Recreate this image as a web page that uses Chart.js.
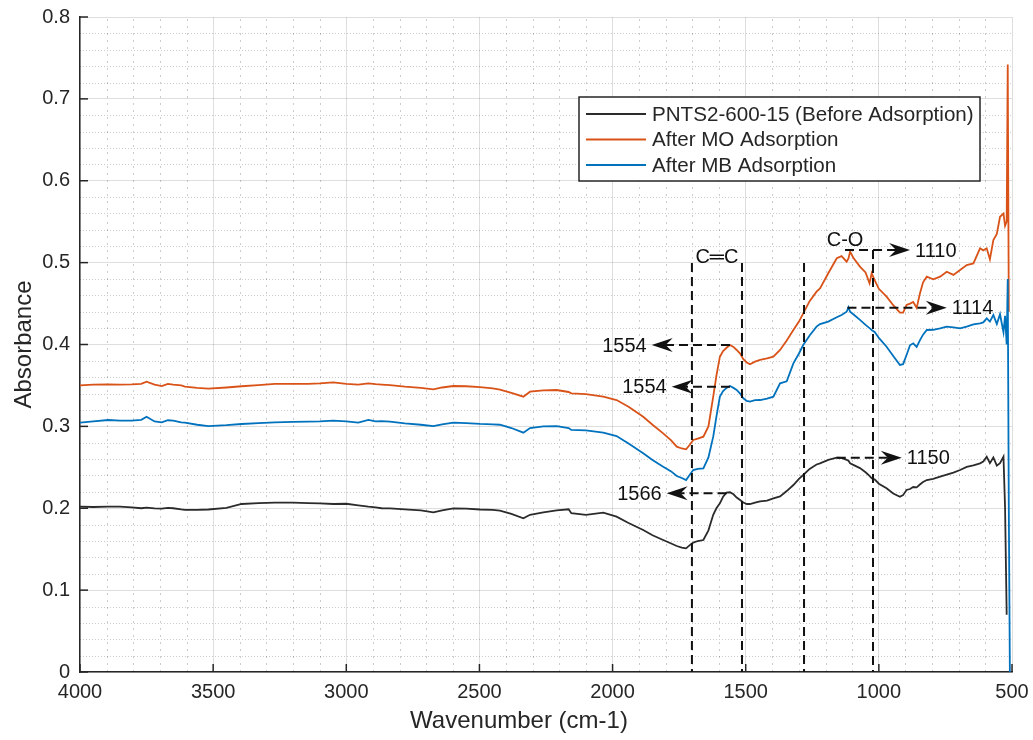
<!DOCTYPE html>
<html>
<head>
<meta charset="utf-8">
<title>FTIR - PNTS2-600-15</title>
<script src="https://cdn.jsdelivr.net/npm/chart.js@4.4.1/dist/chart.umd.min.js"></script>
<style>
  html, body { margin: 0; padding: 0; background: #fff; }
  #ftirChart { display: block; }
</style>
</head>
<body>
<canvas id="ftirChart" width="1033" height="740"></canvas>
<script>
/* ---- data ---- */
var wavenumbers = [
  4000, 3950, 3894, 3850, 3806, 3770, 3750, 3720, 3693, 3670,
  3650, 3620, 3606, 3560, 3518, 3450, 3393, 3330, 3268, 3200,
  3143, 3100, 3049, 3000, 2955, 2917, 2890, 2867, 2836, 2780,
  2720, 2673, 2640, 2598, 2550, 2498, 2450, 2423, 2380, 2335,
  2310, 2260, 2210, 2165, 2155, 2100, 2035, 1985, 1940, 1885,
  1850, 1810, 1780, 1759, 1740, 1724, 1710, 1697, 1680, 1659,
  1640, 1622, 1610, 1597, 1585, 1572, 1559, 1546, 1534, 1521,
  1509, 1496, 1484, 1465, 1446, 1420, 1396, 1371, 1346, 1321,
  1300, 1284, 1260, 1234, 1221, 1190, 1158, 1140, 1121, 1114,
  1108, 1096, 1071, 1050, 1035, 1027, 1015, 1000, 971, 946,
  921, 909, 896, 883, 871, 858, 846, 834, 820, 796,
  770, 745, 720, 695, 670, 645, 620, 608, 595, 583,
  570, 557, 545, 532, 526, 520, 516, 512, 508
];

var beforeAdsorption = [
  0.2019, 0.2015, 0.2019, 0.2020, 0.2010, 0.2000, 0.2008, 0.1999, 0.1995, 0.2005,
  0.2000, 0.1985, 0.1980, 0.1979, 0.1985, 0.2005, 0.2052, 0.2062, 0.2068, 0.2068,
  0.2062, 0.2060, 0.2052, 0.2055, 0.2035, 0.2019, 0.2010, 0.2000, 0.1999, 0.1987,
  0.1975, 0.1950, 0.1975, 0.1999, 0.1995, 0.1985, 0.1980, 0.1970, 0.1930, 0.1877,
  0.1920, 0.1950, 0.1975, 0.1987, 0.1940, 0.1918, 0.1946, 0.1897, 0.1820, 0.1734,
  0.1670, 0.1612, 0.1570, 0.1539, 0.1520, 0.1510, 0.1550, 0.1580, 0.1600, 0.1612,
  0.1730, 0.1920, 0.2000, 0.2060, 0.2140, 0.2190, 0.2195, 0.2170, 0.2130, 0.2100,
  0.2070, 0.2052, 0.2052, 0.2070, 0.2085, 0.2092, 0.2120, 0.2145, 0.2210, 0.2284,
  0.2360, 0.2406, 0.2480, 0.2535, 0.2549, 0.2590, 0.2618, 0.2615, 0.2590, 0.2580,
  0.2549, 0.2530, 0.2490, 0.2440, 0.2395, 0.2366, 0.2350, 0.2300, 0.2243, 0.2180,
  0.2141, 0.2160, 0.2223, 0.2235, 0.2259, 0.2255, 0.2290, 0.2320, 0.2345, 0.2360,
  0.2386, 0.2410, 0.2435, 0.2467, 0.2505, 0.2525, 0.2549, 0.2570, 0.2630, 0.2550,
  0.2620, 0.2520, 0.2550, 0.2630, 0.2000, 0.0700, null, null, null
];

var afterMO = [
  0.3500, 0.3510, 0.3514, 0.3510, 0.3514, 0.3520, 0.3546, 0.3510, 0.3493, 0.3520,
  0.3510, 0.3500, 0.3485, 0.3470, 0.3460, 0.3475, 0.3490, 0.3505, 0.3518, 0.3520,
  0.3520, 0.3525, 0.3538, 0.3520, 0.3510, 0.3526, 0.3515, 0.3510, 0.3505, 0.3485,
  0.3470, 0.3453, 0.3475, 0.3493, 0.3490, 0.3480, 0.3465, 0.3450, 0.3410, 0.3363,
  0.3424, 0.3440, 0.3444, 0.3420, 0.3403, 0.3395, 0.3363, 0.3322, 0.3240, 0.3118,
  0.3020, 0.2915, 0.2830, 0.2752, 0.2730, 0.2720, 0.2775, 0.2834, 0.2850, 0.2874,
  0.3000, 0.3363, 0.3620, 0.3851, 0.3920, 0.3960, 0.3994, 0.3970, 0.3933, 0.3890,
  0.3820, 0.3780, 0.3758, 0.3790, 0.3811, 0.3830, 0.3851, 0.3933, 0.4050, 0.4177,
  0.4280, 0.4381, 0.4530, 0.4645, 0.4686, 0.4870, 0.5053, 0.5080, 0.5012, 0.5050,
  0.5134, 0.5060, 0.4951, 0.4880, 0.4747, 0.4870, 0.4780, 0.4680, 0.4584, 0.4480,
  0.4389, 0.4390, 0.4482, 0.4500, 0.4519, 0.4447, 0.4620, 0.4760, 0.4828, 0.4796,
  0.4828, 0.4889, 0.4850, 0.4910, 0.4971, 0.4990, 0.5175, 0.5150, 0.5175, 0.5040,
  0.5276, 0.5350, 0.5560, 0.5600, 0.5450, 0.5500, 0.7420, 0.4400, null
];

var afterMB = [
  0.3045, 0.3060, 0.3078, 0.3070, 0.3070, 0.3080, 0.3118, 0.3060, 0.3050, 0.3075,
  0.3070, 0.3050, 0.3045, 0.3020, 0.3004, 0.3015, 0.3029, 0.3040, 0.3050, 0.3055,
  0.3057, 0.3060, 0.3070, 0.3060, 0.3045, 0.3078, 0.3060, 0.3065, 0.3057, 0.3037,
  0.3020, 0.3004, 0.3025, 0.3045, 0.3040, 0.3030, 0.3025, 0.3020, 0.2980, 0.2923,
  0.2980, 0.3000, 0.3004, 0.2980, 0.2956, 0.2950, 0.2923, 0.2882, 0.2790, 0.2671,
  0.2590, 0.2508, 0.2450, 0.2394, 0.2370, 0.2345, 0.2410, 0.2467, 0.2480, 0.2488,
  0.2620, 0.2874, 0.3120, 0.3363, 0.3430, 0.3470, 0.3493, 0.3470, 0.3445, 0.3400,
  0.3343, 0.3310, 0.3302, 0.3320, 0.3322, 0.3340, 0.3363, 0.3526, 0.3550, 0.3770,
  0.3890, 0.3994, 0.4110, 0.4218, 0.4250, 0.4280, 0.4332, 0.4360, 0.4400, 0.4454,
  0.4400, 0.4370, 0.4300, 0.4240, 0.4200, 0.4177, 0.4150, 0.4080, 0.3973, 0.3860,
  0.3750, 0.3760, 0.3872, 0.3990, 0.4014, 0.3970, 0.4050, 0.4120, 0.4177, 0.4180,
  0.4197, 0.4218, 0.4210, 0.4198, 0.4218, 0.4245, 0.4259, 0.4270, 0.4320, 0.4280,
  0.4360, 0.4250, 0.4370, 0.4150, 0.4350, 0.4000, 0.4800, 0.2000, 0.0000
];

var seriesNames = ['PNTS2-600-15 (Before Adsorption)', 'After MO Adsorption', 'After MB Adsorption'];
var seriesColors = ['#2b2b2b', '#d95319', '#0072bd'];

var xTickValues = [4000, 3500, 3000, 2500, 2000, 1500, 1000, 500];
var yTickValues = [0, 0.1, 0.2, 0.3, 0.4, 0.5, 0.6, 0.7, 0.8];

// dashed peak arrows (wavenumber start -> wavenumber tip, at absorbance y)
var peakLabels = ['1110', '1114', '1554', '1554', '1566', '1150'];
var peakFrom   = [1127, 1118, 1559, 1559, 1572, 1158];
var peakTo     = [883, 745, 1853, 1778, 1797, 914];
var peakY      = [0.5154, 0.445, 0.3994, 0.3485, 0.2183, 0.2618];

// vertical dashed band markers
var bandLines = [1702, 1514, 1281, 1022];
var bandTops  = [0.4995, 0.4995, 0.4995, 0.5154];

var groupLabels = ['C\u2550C', 'C-O'];
var groupX      = [1608, 1127];
var groupY      = [0.506, 0.5276];

var xTitle = 'Wavenumber (cm-1)';
var yTitle = 'Absorbance';

var FONT = '"Liberation Sans", Arial, Helvetica, sans-serif';
var INK = '#262626';

function toPoints(values) {
    var pts = [];
    for (var i = 0; i < wavenumbers.length; i++) {
        if (values[i] !== null) {
            pts.push({ x: wavenumbers[i], y: values[i] });
        }
    }
    return pts;
}

// keep the plot box where the layout padding puts it (no label overflow)
function noLabelPadding(scale) {
    scale.paddingLeft = 0;
    scale.paddingRight = 0;
    scale.paddingTop = 0;
    scale.paddingBottom = 0;
}

function drawMinorGrid(chart) {
    var ctx = chart.ctx;
    var area = chart.chartArea;
    var xs = chart.scales.x, ys = chart.scales.y;
    ctx.save();
    ctx.strokeStyle = 'rgba(0,0,0,0.2)';
    ctx.lineWidth = 1;

    ctx.setLineDash([2, 5]);
    for (var w = 600; w < 4000; w += 100) {
        if (w % 500 === 0) continue;
        var px = Math.round(xs.getPixelForValue(w)) + 0.5;
        ctx.beginPath();
        ctx.moveTo(px, area.bottom);
        ctx.lineTo(px, area.top);
        ctx.stroke();
    }

    ctx.setLineDash([1, 2]);
    for (var k = 1; k < 40; k++) {
        if (k % 5 === 0) continue;
        var py = Math.round(ys.getPixelForValue(k * 0.02)) + 0.5;
        ctx.beginPath();
        ctx.moveTo(area.left, py);
        ctx.lineTo(area.right, py);
        ctx.stroke();
    }
    ctx.restore();
}

function drawTickMarks(chart) {
    var ctx = chart.ctx;
    var area = chart.chartArea;
    ctx.save();
    ctx.strokeStyle = INK;
    ctx.lineWidth = 1.5;
    xTickValues.forEach(function(v) {
        var px = chart.scales.x.getPixelForValue(v);
        ctx.beginPath();
        ctx.moveTo(px, area.bottom);
        ctx.lineTo(px, area.bottom - 8);
        ctx.stroke();
    });
    yTickValues.forEach(function(v) {
        var py = chart.scales.y.getPixelForValue(v);
        ctx.beginPath();
        ctx.moveTo(area.left, py);
        ctx.lineTo(area.left + 8, py);
        ctx.stroke();
    });
    ctx.restore();
}

function drawAxisTitles(chart) {
    var ctx = chart.ctx;
    var area = chart.chartArea;
    ctx.save();
    ctx.fillStyle = INK;
    ctx.font = '24px ' + FONT;
    ctx.textAlign = 'center';
    ctx.textBaseline = 'middle';
    ctx.fillText(xTitle, 519, 721);
    ctx.translate(24, (area.top + area.bottom) / 2);
    ctx.rotate(-Math.PI / 2);
    ctx.fillText(yTitle, 0, 0);
    ctx.restore();
}

function drawArrowHead(ctx, tx, ty, dir) {
    var len = 21, half = 7, notch = 7;
    ctx.beginPath();
    ctx.moveTo(tx, ty);
    ctx.lineTo(tx - dir * len, ty - half);
    ctx.lineTo(tx - dir * (len - notch), ty);
    ctx.lineTo(tx - dir * len, ty + half);
    ctx.closePath();
    ctx.fill();
}

function drawAnnotations(chart) {
    var ctx = chart.ctx;
    var xs = chart.scales.x, ys = chart.scales.y;
    ctx.save();
    ctx.strokeStyle = '#111';
    ctx.fillStyle = '#111';
    ctx.lineWidth = 2;
    ctx.setLineDash([9, 5]);

    for (var i = 0; i < bandLines.length; i++) {
        var bx = xs.getPixelForValue(bandLines[i]);
        ctx.beginPath();
        ctx.moveTo(bx, ys.getPixelForValue(bandTops[i]));
        ctx.lineTo(bx, ys.getPixelForValue(0));
        ctx.stroke();
    }

    ctx.font = '20px ' + FONT;
    ctx.textBaseline = 'middle';
    for (var j = 0; j < peakLabels.length; j++) {
        var x0 = xs.getPixelForValue(peakFrom[j]);
        var x1 = xs.getPixelForValue(peakTo[j]);
        var py = ys.getPixelForValue(peakY[j]);
        var dir = x1 > x0 ? 1 : -1;
        ctx.setLineDash([9, 5]);
        ctx.beginPath();
        ctx.moveTo(x0, py);
        ctx.lineTo(x1 - dir * 14, py);
        ctx.stroke();
        ctx.setLineDash([]);
        drawArrowHead(ctx, x1, py, dir);
        ctx.textAlign = dir > 0 ? 'left' : 'right';
        ctx.fillText(peakLabels[j], x1 + dir * 5, py + 1);
    }

    ctx.textAlign = 'center';
    for (var k = 0; k < groupLabels.length; k++) {
        ctx.fillText(groupLabels[k], xs.getPixelForValue(groupX[k]), ys.getPixelForValue(groupY[k]));
    }
    ctx.restore();
}

function drawLegendBox(chart) {
    var ctx = chart.ctx;
    var bx = 579, by = 97, bw = 401, bh = 84;
    ctx.save();
    ctx.fillStyle = '#fff';
    ctx.fillRect(bx, by, bw, bh);
    ctx.strokeStyle = INK;
    ctx.lineWidth = 1.5;
    ctx.strokeRect(bx, by, bw, bh);
    ctx.font = '20.6px ' + FONT;
    ctx.textBaseline = 'middle';
    ctx.textAlign = 'left';
    for (var i = 0; i < seriesNames.length; i++) {
        var ly = by + 17 + i * 25.5;
        ctx.strokeStyle = seriesColors[i];
        ctx.lineWidth = 2;
        ctx.beginPath();
        ctx.moveTo(bx + 7, ly);
        ctx.lineTo(bx + 67, ly);
        ctx.stroke();
        ctx.fillStyle = INK;
        ctx.fillText(seriesNames[i], bx + 73, ly + 1);
    }
    ctx.restore();
}

var ftirPlugin = {
    id: 'ftirMarks',
    beforeDatasetsDraw: function(chart) {
        drawMinorGrid(chart);
    },
    afterDatasetsDraw: function(chart) {
        drawAnnotations(chart);
        drawTickMarks(chart);
        drawLegendBox(chart);
        drawAxisTitles(chart);
    }
};

var datasets = [beforeAdsorption, afterMO, afterMB].map(function(values, i) {
    return {
        label: seriesNames[i],
        data: toPoints(values),
        borderColor: seriesColors[i],
        backgroundColor: seriesColors[i],
        borderWidth: 1.8,
        pointRadius: 0,
        tension: 0,
        fill: false,
        order: 2 - i
    };
});

var ctx = document.getElementById('ftirChart').getContext('2d');
new Chart(ctx, {
    type: 'line',
    data: { datasets: datasets },
    plugins: [ftirPlugin],
    options: {
        responsive: false,
        animation: false,
        layout: { padding: { top: 17, right: 21, left: 0, bottom: 0 } },
        plugins: {
            legend: { display: false },
            tooltip: { enabled: false }
        },
        scales: {
            x: {
                type: 'linear',
                reverse: true,
                min: 500,
                max: 4000,
                afterBuildTicks: function(scale) {
                    scale.ticks = xTickValues.map(function(v) { return { value: v }; });
                },
                afterFit: function(scale) {
                    scale.height = 68;
                    noLabelPadding(scale);
                },
                ticks: {
                    autoSkip: false,
                    maxRotation: 0,
                    padding: 8,
                    color: INK,
                    font: { family: FONT, size: 20 },
                    callback: function(v) { return String(v); }
                },
                grid: { color: 'rgba(0,0,0,0.13)', lineWidth: 1, drawTicks: false },
                border: { color: INK, width: 1.5 }
            },
            y: {
                type: 'linear',
                min: 0,
                max: 0.8,
                afterBuildTicks: function(scale) {
                    scale.ticks = yTickValues.map(function(v) { return { value: v }; });
                },
                afterFit: function(scale) {
                    scale.width = 80;
                    noLabelPadding(scale);
                },
                ticks: {
                    padding: 10,
                    color: INK,
                    font: { family: FONT, size: 20 },
                    callback: function(v) { return v === 0 ? '0' : v.toFixed(1); }
                },
                grid: { color: 'rgba(0,0,0,0.13)', lineWidth: 1, drawTicks: false },
                border: { color: INK, width: 1.5 }
            }
        }
    }
});
</script>
</body>
</html>
